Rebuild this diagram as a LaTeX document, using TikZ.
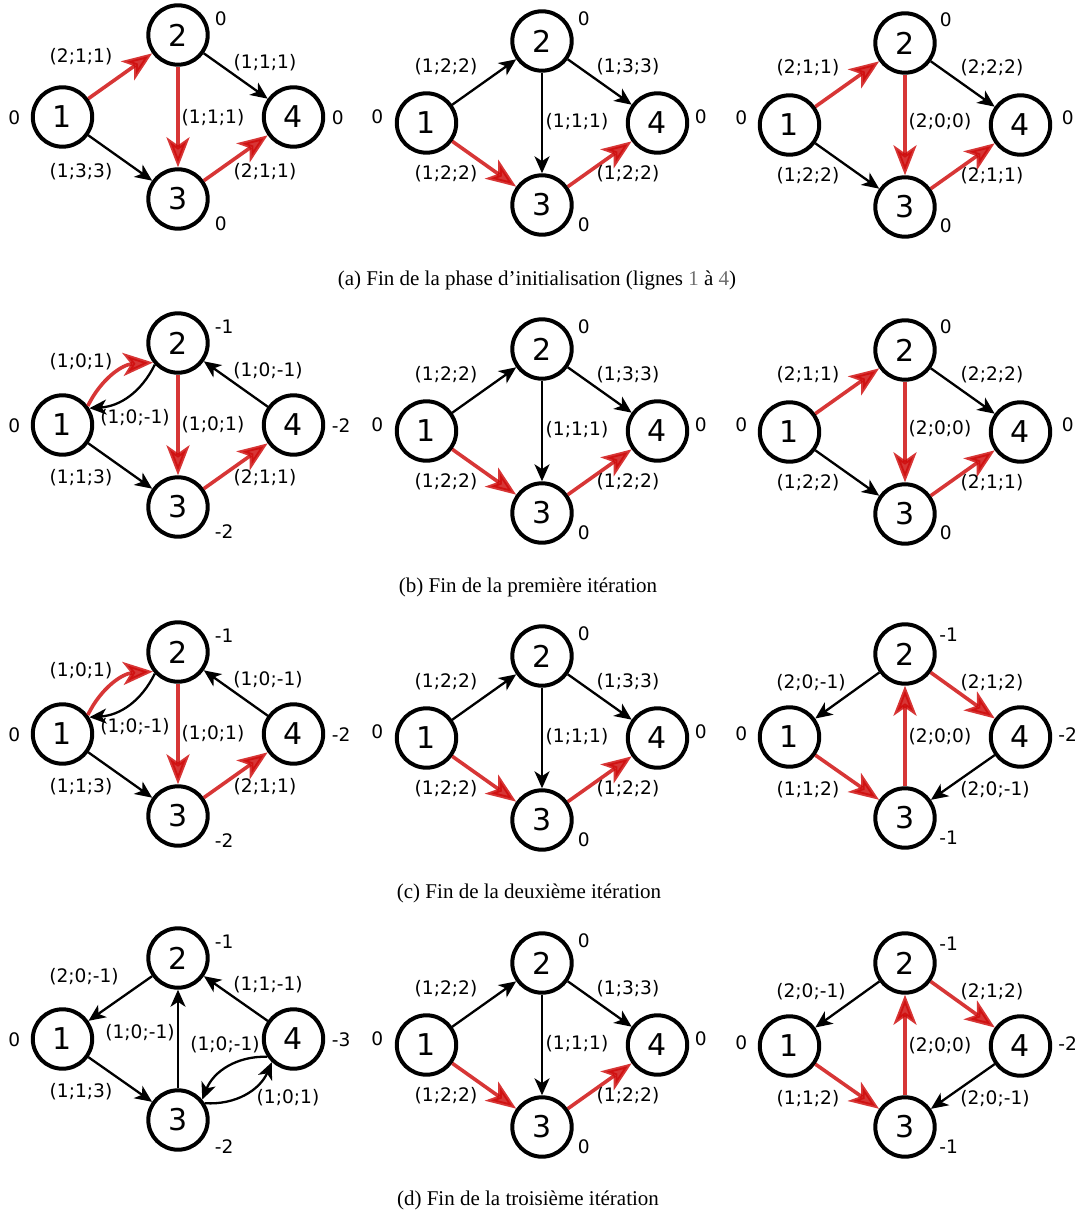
\documentclass[tikz,border=0pt]{standalone}
\usepackage{fontspec}
\setmainfont{Liberation Serif}
\newfontfamily\dvs{DejaVu Sans}
\usetikzlibrary{arrows.meta}
\definecolor{redE}{RGB}{206,10,10}
\definecolor{lnum}{RGB}{110,110,110}
\begin{document}
\begin{tikzpicture}[x=0.5pt,y=-0.5pt,
  vert/.style={circle,draw,line width=2pt,minimum size=29.7pt,inner sep=0pt,font=\dvs\fontsize{15}{17}\selectfont},
  val/.style={inner sep=0pt,font=\dvs\fontsize{9.3}{11}\selectfont},
  blk/.style={line width=1.15pt,-{Stealth[length=8.5pt,width=7.5pt,inset=2.4pt]}},
  rd/.style={draw=redE,line width=1.8pt,opacity=0.82,-{Stealth[length=15pt,width=11.5pt,inset=4pt]}},
  captxt/.style={inner sep=0pt,font=\fontsize{10.5}{12}\selectfont}]
\useasboundingbox (0,0) rectangle (1079,1214);

% ---------- Row a, left ----------
\begin{scope}[shift={(178,35)}]
 \node[vert] (aL2) at (0,0) {2};
 \node[vert] (aL1) at (-115.5,82) {1};
 \node[vert] (aL3) at (0,164) {3};
 \node[vert] (aL4) at (115.5,82) {4};
 \node[val,anchor=east] (aLv1) at (-157.5,83) {0};
 \node[val,anchor=west] (aLv2) at (36.5,-16) {0};
 \node[val,anchor=west] (aLv4) at (153.5,83) {0};
 \node[val,anchor=west] (aLv3) at (36.5,189) {0};
 \draw[rd] (aL1) -- (aL2);
 \draw[blk] (aL1) -- (aL3);
 \draw[rd] (aL2) -- (aL3);
 \draw[blk] (aL2) -- (aL4);
 \draw[rd] (aL3) -- (aL4);
 \node[val] (aLe12) at (-97,22) {(2;1;1)};
 \node[val] (aLe13) at (-97,137) {(1;3;3)};
 \node[val] (aLe23) at (35,83) {(1;1;1)};
 \node[val] (aLe24) at (87,28) {(1;1;1)};
 \node[val] (aLe34) at (87,137) {(2;1;1)};
\end{scope}

% ---------- Middle panels (all rows) ----------
\foreach \r/\ty in {a/41,b/349,c/656,d/963}{
\begin{scope}[shift={(542,\ty)}]
 \node[vert] (\r M2) at (0,0) {2};
 \node[vert] (\r M1) at (-115.5,82) {1};
 \node[vert] (\r M3) at (0,164) {3};
 \node[vert] (\r M4) at (115.5,82) {4};
 \node[val,anchor=east] (\r Mv1) at (-158.5,76) {0};
 \node[val,anchor=west] (\r Mv2) at (35.5,-22) {0};
 \node[val,anchor=west] (\r Mv4) at (152.5,76) {0};
 \node[val,anchor=west] (\r Mv3) at (35.5,184) {0};
 \draw[blk] (\r M1) -- (\r M2);
 \draw[rd] (\r M1) -- (\r M3);
 \draw[blk] (\r M2) -- (\r M3);
 \draw[blk] (\r M2) -- (\r M4);
 \draw[rd] (\r M3) -- (\r M4);
 \node[val] (\r Me12) at (-96,26) {(1;2;2)};
 \node[val] (\r Me13) at (-96,133) {(1;2;2)};
 \node[val] (\r Me23) at (35,81) {(1;1;1)};
 \node[val] (\r Me24) at (86,26) {(1;3;3)};
 \node[val] (\r Me34) at (86,133) {(1;2;2)};
\end{scope}}

% ---------- Right panels, rows a and b ----------
\foreach \r/\ty in {a/43,b/350}{
\begin{scope}[shift={(905,\ty)}]
 \node[vert] (\r R2) at (0,0) {2};
 \node[vert] (\r R1) at (-115.5,82) {1};
 \node[vert] (\r R3) at (0,164) {3};
 \node[vert] (\r R4) at (115.5,82) {4};
 \node[val,anchor=east] (\r Rv1) at (-157.5,75) {0};
 \node[val,anchor=west] (\r Rv2) at (34.5,-23) {0};
 \node[val,anchor=west] (\r Rv4) at (156.5,75) {0};
 \node[val,anchor=west] (\r Rv3) at (34.5,183) {0};
 \draw[rd] (\r R1) -- (\r R2);
 \draw[blk] (\r R1) -- (\r R3);
 \draw[rd] (\r R2) -- (\r R3);
 \draw[blk] (\r R2) -- (\r R4);
 \draw[rd] (\r R3) -- (\r R4);
 \node[val] (\r Re12) at (-97,25) {(2;1;1)};
 \node[val] (\r Re13) at (-97,133) {(1;2;2)};
 \node[val] (\r Re23) at (35,79) {(2;0;0)};
 \node[val] (\r Re24) at (87,25) {(2;2;2)};
 \node[val] (\r Re34) at (87,133) {(2;1;1)};
\end{scope}}

% ---------- Left panels, rows b and c ----------
\foreach \r/\ty in {b/343,c/652}{
\begin{scope}[shift={(178,\ty)}]
 \node[vert] (\r L2) at (0,0) {2};
 \node[vert] (\r L1) at (-115.5,82) {1};
 \node[vert] (\r L3) at (0,164) {3};
 \node[vert] (\r L4) at (115.5,82) {4};
 \node[val,anchor=east] (\r Lv1) at (-157.5,83) {0};
 \node[val,anchor=west] (\r Lv2) at (36.5,-16) {-1};
 \node[val,anchor=west] (\r Lv4) at (153.5,83) {-2};
 \node[val,anchor=west] (\r Lv3) at (36.5,189) {-2};
 \draw[rd] (\r L1.37) to[bend left=30] (\r L2.218);
 \draw[blk] (\r L2.223) to[bend left=30] (\r L1.32);
 \draw[rd] (\r L2) -- (\r L3);
 \draw[blk] (\r L4) -- (\r L2);
 \draw[blk] (\r L1) -- (\r L3);
 \draw[rd] (\r L3) -- (\r L4);
 \node[val] (\r Le12) at (-97,19) {(1;0;1)};
 \node[val] (\r Le21) at (-43,75) {(1;0;-1)};
 \node[val] (\r Le23) at (35,82) {(1;0;1)};
 \node[val] (\r Le42) at (90,28) {(1;0;-1)};
 \node[val] (\r Le13) at (-97,135) {(1;1;3)};
 \node[val] (\r Le34) at (87,135) {(2;1;1)};
\end{scope}}

% ---------- Right panels, rows c and d ----------
\foreach \r/\ty in {c/654,d/963}{
\begin{scope}[shift={(905,\ty)}]
 \node[vert] (\r R2) at (0,0) {2};
 \node[vert] (\r R1) at (-115.5,83) {1};
 \node[vert] (\r R3) at (0,164) {3};
 \node[vert] (\r R4) at (115.5,83) {4};
 \node[val,anchor=east] (\r Rv1) at (-157.5,80) {0};
 \node[val,anchor=west] (\r Rv2) at (34,-19) {-1};
 \node[val,anchor=west] (\r Rv4) at (153,81) {-2};
 \node[val,anchor=west] (\r Rv3) at (34,184) {-1};
 \draw[blk] (\r R2) -- (\r R1);
 \draw[rd] (\r R2) -- (\r R4);
 \draw[rd] (\r R3) -- (\r R2);
 \draw[rd] (\r R1) -- (\r R3);
 \draw[blk] (\r R4) -- (\r R3);
 \node[val] (\r Re21) at (-94,29) {(2;0;-1)};
 \node[val] (\r Re24) at (87,29) {(2;1;2)};
 \node[val] (\r Re32) at (35,83) {(2;0;0)};
 \node[val] (\r Re13) at (-97,136) {(1;1;2)};
 \node[val] (\r Re43) at (90,136) {(2;0;-1)};
\end{scope}}

% ---------- Row d, left ----------
\begin{scope}[shift={(178,958)}]
 \node[vert] (dL2) at (0,0) {2};
 \node[vert] (dL1) at (-115.5,81) {1};
 \node[vert] (dL3) at (0,162) {3};
 \node[vert] (dL4) at (115.5,81) {4};
 \node[val,anchor=east] (dLv1) at (-157.5,82) {0};
 \node[val,anchor=west] (dLv2) at (36.5,-16) {-1};
 \node[val,anchor=west] (dLv4) at (153.5,82) {-3};
 \node[val,anchor=west] (dLv3) at (36.5,189) {-2};
 \draw[blk] (dL2) -- (dL1);
 \draw[blk] (dL1) -- (dL3);
 \draw[blk] (dL3) -- (dL2);
 \draw[blk] (dL4) -- (dL2);
 \draw[blk] (dL4.214) to[bend right=35] (dL3.40);
 \draw[blk] (dL3.32) to[bend right=35] (dL4.227);
 \node[val] (dLe21) at (-94,19) {(2;0;-1)};
 \node[val] (dLe32) at (-38,75) {(1;0;-1)};
 \node[val] (dLe42) at (90,27) {(1;1;-1)};
 \node[val] (dLe13) at (-97,134) {(1;1;3)};
 \node[val] (dLe43) at (47,87) {(1;0;-1)};
 \node[val] (dLe34) at (110,140) {(1;0;1)};
\end{scope}

% ---------- Captions ----------
\node[captxt] (capA) at (537,280) {(a) Fin de la phase d’initialisation (lignes {\color{lnum}1} à {\color{lnum}4})};
\node[captxt] (capB) at (528,587) {(b) Fin de la première itération};
\node[captxt] (capC) at (529,893) {(c) Fin de la deuxième itération};
\node[captxt] (capD) at (528,1200) {(d) Fin de la troisième itération};
\end{tikzpicture}
\end{document}
